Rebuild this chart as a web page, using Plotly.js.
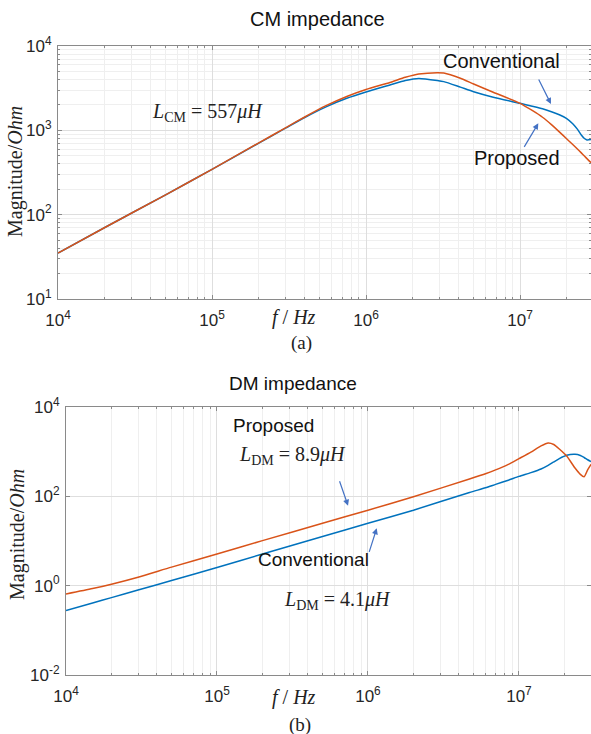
<!DOCTYPE html>
<html>
<head>
<meta charset="utf-8">
<script src="https://cdn.plot.ly/plotly-3.0.1.min.js"></script>
<style>html,body{margin:0;padding:0;background:#fff;}#chart{width:591px;height:734px;}</style>
</head>
<body>
<div id="chart"></div>
<script>
// ---- CM impedance (top) ----
const cmFreq = [1e4, 2e4, 5e4, 1e5, 2e5, 3e5, 4e5, 5.5e5, 7.5e5, 1e6, 1.43e6, 1.8e6, 2.2e6, 2.9e6, 3.2e6, 4.1e6, 5e6, 6.7e6, 1e7, 1.2e7, 1.4e7, 1.6e7, 1.8e7, 2e7, 2.2e7, 2.35e7, 2.5e7, 2.62e7, 2.72e7, 2.9e7];
const cmConventional = [35, 70, 172, 345, 700, 1060, 1420, 1900, 2400, 2850, 3450, 3900, 4130, 3900, 3780, 3250, 2870, 2470, 2090, 1930, 1800, 1660, 1530, 1390, 1200, 1040, 880, 800, 770, 780];
const cmProposed = [35, 70, 172, 345, 705, 1070, 1440, 1960, 2520, 3050, 3700, 4250, 4650, 4830, 4780, 4140, 3540, 2830, 2090, 1720, 1430, 1170, 960, 800, 680, 605, 540, 495, 462, 412];

// ---- DM impedance (bottom) ----
const dmFreq = [1e4, 1.5e4, 2e4, 3e4, 5e4, 1e5, 2e5, 5e5, 1e6, 2e6, 4.7e6, 6e6, 7e6, 8.5e6, 1e7, 1.2e7, 1.4e7, 1.56e7, 1.7e7, 1.85e7, 2.07e7, 2.35e7, 2.55e7, 2.7e7, 2.85e7, 3e7];
const dmProposed = [0.65, 0.86, 1.08, 1.55, 2.6, 5.1, 10.2, 25, 49, 98, 244, 320, 390, 520, 700, 980, 1350, 1570, 1450, 1150, 800, 430, 310, 275, 390, 520];
const dmConventional = [0.277, 0.41, 0.54, 0.8, 1.3, 2.55, 5.1, 12.6, 25, 49, 122, 155, 185, 230, 280, 340, 410, 495, 590, 700, 830, 870, 820, 740, 660, 600];

// ---- tick labels ----
const xTickVals = [1e4, 1e5, 1e6, 1e7];
const xTickText = ['10<sup>4</sup>', '10<sup>5</sup>', '10<sup>6</sup>', '10<sup>7</sup>'];
const cmYTickVals = [10, 100, 1000, 10000];
const cmYTickText = ['10<sup>1</sup>', '10<sup>2</sup>', '10<sup>3</sup>', '10<sup>4</sup>'];
const dmYTickVals = [0.01, 1, 100, 10000];
const dmYTickText = ['10<sup>-2</sup>', '10<sup>0</sup>', '10<sup>2</sup>', '10<sup>4</sup>'];

const blue = '#0072BD', orange = '#D95319', arrowBlue = '#4472C4';
const W = 591, H = 734;
const px = v => v / W, py = v => 1 - v / H;

const lineStyle = c => ({color: c, width: 1.5, shape: 'spline', smoothing: 0.6});
const traces = [
  {x: cmFreq, y: cmConventional, xaxis: 'x', yaxis: 'y', mode: 'lines', line: lineStyle(blue), hoverinfo: 'skip'},
  {x: cmFreq, y: cmProposed, xaxis: 'x', yaxis: 'y', mode: 'lines', line: lineStyle(orange), hoverinfo: 'skip'},
  {x: dmFreq, y: dmConventional, xaxis: 'x2', yaxis: 'y2', mode: 'lines', line: lineStyle(blue), hoverinfo: 'skip'},
  {x: dmFreq, y: dmProposed, xaxis: 'x2', yaxis: 'y2', mode: 'lines', line: lineStyle(orange), hoverinfo: 'skip'}
];

const tickFont = {family: 'Liberation Sans, Arial, sans-serif', size: 17, color: '#262626'};
function axisBase(extra) {
  return Object.assign({
    type: 'log', showline: true, linecolor: '#8a8a8a', linewidth: 1, mirror: 'allticks',
    ticks: 'inside', ticklen: 4, tickcolor: '#8a8a8a', tickfont: tickFont,
    tickmode: 'array',
    showgrid: true, gridcolor: '#dedede', gridwidth: 1, zeroline: false, fixedrange: true
  }, extra);
}
const minorGrid = {dtick: 'D1', showgrid: true, gridcolor: '#efefef', ticks: 'inside', ticklen: 2, tickcolor: '#8a8a8a'};

const cAnn = {xanchor: 'center', yanchor: 'middle', showarrow: false};
const sans = s => ({family: 'Liberation Sans, Arial', size: s, color: '#111'});
const serif = s => ({family: 'Liberation Serif, serif', size: s, color: '#222'});
const arrow = (xref, yref, x, y, ax, ay) => ({text: '', xref, yref, x, y, ax, ay, showarrow: true, arrowhead: 2, arrowsize: 1, arrowwidth: 1.2, arrowcolor: arrowBlue});

const layout = {
  width: W, height: H, margin: {l: 0, r: 0, t: 0, b: 0},
  paper_bgcolor: '#fff', plot_bgcolor: '#fff', showlegend: false,
  xaxis: axisBase({domain: [px(58), 1], range: [4, 7.461], anchor: 'y', tickvals: xTickVals, ticktext: xTickText, minor: minorGrid, ticklabelstandoff: 6}),
  yaxis: axisBase({domain: [py(299), py(46)], range: [1, 4], anchor: 'x', tickvals: cmYTickVals, ticktext: cmYTickText, minor: minorGrid, ticklabelstandoff: 2}),
  xaxis2: axisBase({domain: [px(66), 1], range: [4, 7.477], anchor: 'y2', tickvals: xTickVals, ticktext: xTickText, minor: minorGrid, ticklabelstandoff: 6}),
  yaxis2: axisBase({domain: [py(675), py(407)], range: [-2, 4], anchor: 'x2', tickvals: dmYTickVals, ticktext: dmYTickText, ticklabelstandoff: 2}),
  annotations: [
    // titles
    Object.assign({text: 'CM impedance', xref: 'paper', yref: 'paper', x: px(318), y: py(19), font: sans(20)}, cAnn),
    Object.assign({text: 'DM impedance', xref: 'paper', yref: 'paper', x: px(293), y: py(383), font: sans(19)}, cAnn),
    // axis labels
    Object.assign({text: 'Magnitude/<i>Ohm</i>', xref: 'paper', yref: 'paper', x: px(15), y: py(172), textangle: -90, font: serif(20)}, cAnn),
    Object.assign({text: 'Magnitude/<i>Ohm</i>', xref: 'paper', yref: 'paper', x: px(17), y: py(535), textangle: -90, font: serif(20)}, cAnn),
    Object.assign({text: '<i>f</i> / <i>Hz</i>', xref: 'paper', yref: 'paper', x: px(294), y: py(317), font: serif(20)}, cAnn),
    Object.assign({text: '<i>f</i> / <i>Hz</i>', xref: 'paper', yref: 'paper', x: px(294), y: py(697), font: serif(20)}, cAnn),
    Object.assign({text: '(a)', xref: 'paper', yref: 'paper', x: px(301), y: py(343), font: serif(19)}, cAnn),
    Object.assign({text: '(b)', xref: 'paper', yref: 'paper', x: px(300), y: py(725), font: serif(19)}, cAnn),
    // top annotations
    Object.assign({text: '<i>L</i><sub>CM</sub> = 557<i>μH</i>', xref: 'x', yref: 'y', x: 4.968, y: 3.217, font: serif(20)}, cAnn),
    Object.assign({text: 'Conventional', xref: 'x', yref: 'y', x: 6.881, y: 3.826, font: sans(20)}, cAnn),
    Object.assign({text: 'Proposed', xref: 'x', yref: 'y', x: 6.981, y: 2.672, font: sans(20)}, cAnn),
    arrow('x', 'y', 7.201, 3.312, -13, -26),
    arrow('x', 'y', 7.119, 3.083, -15, 25),
    // bottom annotations
    Object.assign({text: 'Proposed', xref: 'x2', yref: 'y2', x: 5.373, y: 3.597, font: sans(19)}, cAnn),
    Object.assign({text: '<i>L</i><sub>DM</sub> = 8.9<i>μH</i>', xref: 'x2', yref: 'y2', x: 5.5, y: 2.925, font: serif(20)}, cAnn),
    Object.assign({text: 'Conventional', xref: 'x2', yref: 'y2', x: 5.638, y: 0.575, font: sans(19)}, cAnn),
    Object.assign({text: '<i>L</i><sub>DM</sub> = 4.1<i>μH</i>', xref: 'x2', yref: 'y2', x: 5.798, y: -0.321, font: serif(20)}, cAnn),
    arrow('x2', 'y2', 5.868, 1.79, -9, -26),
    arrow('x2', 'y2', 6.058, 1.284, -8, 25)
  ]
};

Plotly.newPlot('chart', traces, layout, {staticPlot: true, displayModeBar: false});
</script>
</body>
</html>
